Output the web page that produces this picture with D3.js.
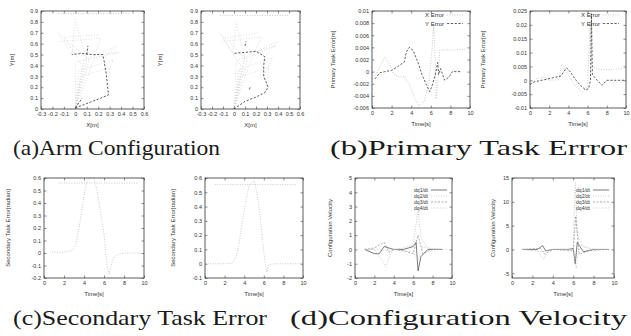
<!DOCTYPE html>
<html>
<head>
<meta charset="utf-8">
<script src="https://cdn.jsdelivr.net/npm/d3@7"></script>
<style>
  body { margin: 0; background: #fff; }
  svg { display: block; }
  .tick text { font-family: "Liberation Sans", Arial, sans-serif; font-size: 5.5px; fill: #333; }
  .title { font-family: "Liberation Sans", Arial, sans-serif; font-size: 6px; fill: #333; }
  .caption { font-family: "Liberation Serif", serif; font-size: 22px; fill: #1a1a1a; }
</style>
</head>
<body>
<svg id="fig" width="631" height="336"></svg>
<script>
// ---- tick values ----
const armTicks = [-0.3, -0.2, -0.1, 0, 0.1, 0.2, 0.3, 0.4, 0.5, 0.6];
const armYTicks = [0, 0.1, 0.2, 0.3, 0.4, 0.5, 0.6, 0.7, 0.8, 0.9];
const timeTicks = [0, 2, 4, 6, 8, 10];
const b1YTicks = [-0.006, -0.004, -0.002, 0, 0.002, 0.004, 0.006, 0.008, 0.01];
const b2YTicks = [-0.01, -0.005, 0, 0.005, 0.01, 0.015, 0.02, 0.025];
const c1YTicks = [-0.2, -0.1, 0, 0.1, 0.2, 0.3, 0.4, 0.5, 0.6];
const c2YTicks = [-0.1, 0, 0.1, 0.2, 0.3, 0.4, 0.5, 0.6];
const d1YTicks = [-2, -1, 0, 1, 2, 3, 4, 5];
const d2YTicks = [-5, 0, 5, 10, 15];

// ---- (a) arm configuration: end effector path + arm poses ----
const a1Path = [[0,0.01],[0.1,0.05],[0.2,0.09],[0.29,0.13],[0.28,0.22],[0.27,0.32],[0.25,0.45],[0.24,0.5],[0.15,0.5],[0.05,0.51],[-0.03,0.5]];
const a1Extra = [[[0.0,0.01],[0.06,0.1]], [[0.1,0.5],[0.11,0.58]]];
const a1Poses = [
  [[0,0],[0.05,0.3],[0.3,0.38],[0.29,0.13]],
  [[0,0],[0.03,0.35],[0.33,0.45],[0.27,0.3]],
  [[0,0],[0.0,0.42],[0.36,0.58],[0.25,0.47]],
  [[0,0],[0.08,0.45],[0.38,0.52],[0.2,0.5]],
  [[0,0],[0.12,0.45],[-0.15,0.7],[-0.03,0.5]],
  [[0,0],[0.15,0.42],[0.22,0.65],[-0.15,0.62]],
  [[0,0],[0.1,0.45],[0.0,0.82],[-0.03,0.5]],
  [[0,0],[0.06,0.4],[-0.1,0.66],[0.2,0.68]]
];
const a1Key = [[-0.15,0.875],[0.48,0.875]];

const a2Path = [[0,0.0],[0.1,0.07],[0.2,0.11],[0.28,0.15],[0.31,0.2],[0.27,0.3],[0.27,0.4],[0.28,0.48],[0.2,0.53],[0.1,0.52],[-0.01,0.51]];
const a2Extra = [[[0.14,0.18],[0.15,0.21]], [[0.1,0.58],[0.11,0.62]]];
const a2Poses = [
  [[0,0],[0.06,0.3],[0.32,0.38],[0.28,0.15]],
  [[0,0],[0.04,0.36],[0.35,0.47],[0.27,0.3]],
  [[0,0],[0.02,0.44],[0.4,0.62],[0.28,0.48]],
  [[0,0],[0.09,0.46],[0.38,0.58],[0.2,0.53]],
  [[0,0],[0.12,0.45],[-0.13,0.7],[-0.01,0.51]],
  [[0,0],[0.15,0.44],[0.25,0.66],[-0.12,0.62]],
  [[0,0],[0.1,0.46],[0.02,0.8],[-0.01,0.51]],
  [[0,0],[0.06,0.4],[-0.1,0.65],[0.22,0.7]]
];
const a2Key = [[-0.13,0.86],[0.5,0.86]];

// ---- (b) primary task error ----
const b1XErr = [[0,-0.0012],[0.4,-0.0005],[0.8,0.0008],[1.3,0.0024],[1.8,0.0012],[2.2,-0.0004],[2.8,-0.0009],[3.3,-0.0008],[3.8,-0.002],[4.3,-0.0042],[4.8,-0.0057],[5.3,-0.005],[5.8,-0.002],[6.1,0.003],[6.3,0.0078],[6.45,0.002],[6.55,-0.0045],[6.75,-0.001],[6.9,0.0035],[7.5,0.0036],[8.5,0.0036],[9.5,0.0037]];
const b1YErr = [[0.3,-0.0012],[0.8,-0.0002],[1.3,0.0],[2,0.0002],[2.6,0.0008],[3.3,0.0016],[3.5,0.0032],[3.8,0.004],[4.2,0.0035],[4.7,0.0015],[5.1,-0.0005],[5.5,-0.002],[5.9,-0.0033],[6.2,-0.002],[6.5,-0.0002],[6.7,0.0015],[6.8,-0.0005],[7.0,0.0005],[7.4,-0.0014],[7.8,-0.001],[8.2,0],[9,0]];
const b2XErr = [[0,-0.001],[0.8,0.0008],[1.5,0.001],[2,0.0],[3,0.0002],[3.3,0.006],[3.6,0.004],[4,0.002],[4.5,-0.001],[5,-0.003],[5.5,-0.004],[6,-0.002],[6.25,0.021],[6.4,0.006],[6.6,0.005],[7,0.004],[8,0.0038],[9,0.004],[9.6,0.0042]];
const b2YErr = [[0,-0.0015],[0.5,-0.0005],[1.5,0.0002],[2.5,0.001],[3.2,0.0015],[3.5,0.003],[3.8,0.0045],[4.2,0.003],[4.8,0.0],[5.3,-0.002],[5.8,-0.0035],[6.1,-0.003],[6.3,0.0],[6.4,0.024],[6.5,0.002],[7,0],[7.5,-0.0018],[8,0],[9,0],[10,0]];
const bNames = ["X Error", "Y Error"];

// ---- (c) secondary task error ----
const c1Err = [[0.8,0.01],[1.5,0],[2.2,0.01],[2.8,0.02],[3.2,0.07],[3.5,0.2],[3.8,0.35],[4.2,0.55],[4.5,0.6],[5,0.6],[5.3,0.5],[5.6,0.35],[6,0.15],[6.3,-0.1],[6.5,-0.17],[6.8,-0.08],[7,-0.03],[7.5,-0.01],[8,0],[9.7,0]];
const c1Key = [[1.5,0.56],[9.5,0.56]];
const c2Err = [[0.3,0],[1,0],[1.5,0],[2.2,0],[2.8,0.005],[3.2,0.05],[3.5,0.15],[3.8,0.3],[4.2,0.45],[4.5,0.55],[5,0.58],[5.3,0.5],[5.6,0.35],[5.9,0.15],[6.1,0.02],[6.3,-0.06],[6.5,-0.01],[7,0],[8,0],[9.8,0]];
const c2Key = [[1,0.555],[9.3,0.555]];

// ---- (d) configuration velocity ----
const d1Q1 = [[1,0],[2,-0.3],[2.5,-0.3],[3,0.2],[3.5,0.1],[4,0],[5,0],[6,0.2],[6.3,0.5],[6.5,-1.5],[6.8,-0.5],[7.5,0],[9,0]];
const d1Q2 = [[1,0],[2,0],[2.5,-0.5],[3.2,-1.2],[3.6,-0.4],[4,0],[5,0.1],[6,0.3],[6.5,2.8],[6.8,0.8],[7.5,0.1],[9,0]];
const d1Q3 = [[1,0],[2,0.1],[3,0.5],[3.5,-0.2],[4,0],[5,-0.1],[6,-0.3],[6.5,1.0],[7,-0.3],[8,0],[9,0]];
const d1Q4 = [[1,0],[2.5,0],[3,-0.1],[4,0],[6,-0.2],[6.5,-0.8],[7,0.2],[8,0],[9.5,0]];
const d2Q1 = [[1,0],[2.5,0],[3,0.8],[3.3,-0.3],[4,0],[5.5,0],[6,0.2],[6.2,-3],[6.4,1.5],[7,-0.5],[8,0],[9.5,0]];
const d2Q2 = [[1,0],[2.5,-0.3],[3.1,-2],[3.5,-0.5],[4,0],[5.5,0],[6,0.3],[6.2,14],[6.4,3],[7,0.5],[8,0],[9.5,0]];
const d2Q3 = [[1,0],[2.8,0.2],[3.2,-1],[4,0],[6,-0.3],[6.25,7],[6.6,-1],[7.5,-0.3],[9,0]];
const d2Q4 = [[1,0],[3,-0.5],[4,0],[6,0],[6.3,-4],[6.6,1],[8,0],[9.5,0]];
const dNames = ["dq1/dt", "dq2/dt", "dq3/dt", "dq4/dt"];

// ---- styles ----
const light = {stroke: "#bdbdbd", dash: "0.9,1.6", width: 0.9};
const pale = {stroke: "#cfcfcf", dash: "0.9,1.8", width: 0.8};
const dark = {stroke: "#333", dash: "2.2,1.6", width: 0.8};
const solid = {stroke: "#444", dash: null, width: 0.7};
const mid = {stroke: "#8a8a8a", dash: "2,1.5", width: 0.7};
const faint = {stroke: "#c8c8c8", dash: "1.5,1.5", width: 0.7};

const svg = d3.select("#fig");

function fmt(d) { return String(+d.toFixed(3)); }

function panel(p) {
  const x = d3.scaleLinear().domain(p.xDom).range([p.left, p.right]);
  const y = d3.scaleLinear().domain(p.yDom).range([p.bottom, p.top]);
  const g = svg.append("g");

  const line = d3.line().x(d => x(d[0])).y(d => y(d[1]));

  // curves
  p.series.forEach(s => {
    g.append("path")
      .attr("d", line(s.pts))
      .attr("fill", "none")
      .attr("stroke", s.style.stroke)
      .attr("stroke-width", s.style.width)
      .attr("stroke-dasharray", s.style.dash);
  });

  // axes with inward ticks on all sides
  const noLab = () => "";
  g.append("g").attr("transform", `translate(0,${p.bottom})`)
    .call(d3.axisBottom(x).tickValues(p.xTicks).tickSize(-2.5).tickPadding(3).tickFormat(fmt))
    .call(a => a.select(".domain").remove());
  g.append("g").attr("transform", `translate(0,${p.top})`)
    .call(d3.axisTop(x).tickValues(p.xTicks).tickSize(-2.5).tickFormat(noLab))
    .call(a => a.select(".domain").remove());
  g.append("g").attr("transform", `translate(${p.left},0)`)
    .call(d3.axisLeft(y).tickValues(p.yTicks).tickSize(-2.5).tickPadding(3).tickFormat(fmt))
    .call(a => a.select(".domain").remove());
  g.append("g").attr("transform", `translate(${p.right},0)`)
    .call(d3.axisRight(y).tickValues(p.yTicks).tickSize(-2.5).tickFormat(noLab))
    .call(a => a.select(".domain").remove());
  g.selectAll(".tick line").attr("stroke", "#444").attr("stroke-width", 0.6);

  g.append("rect")
    .attr("x", p.left).attr("y", p.top)
    .attr("width", p.right - p.left).attr("height", p.bottom - p.top)
    .attr("fill", "none").attr("stroke", "#333").attr("stroke-width", 0.8);

  // axis titles
  g.append("text").attr("class", "title")
    .attr("x", (p.left + p.right) / 2).attr("y", p.bottom + 18)
    .attr("text-anchor", "middle").text(p.xLabel);
  g.append("text").attr("class", "title")
    .attr("transform", `translate(${p.yLabelX},${(p.top + p.bottom) / 2}) rotate(-90)`)
    .attr("text-anchor", "middle").text(p.yLabel);

  // legend
  if (p.legend) {
    p.legend.names.forEach((n, i) => {
      const ly = p.top + p.legend.dy + i * p.legend.step;
      const st = p.legend.styles[i];
      g.append("text").attr("class", "title")
        .style("font-size", p.legend.size + "px")
        .attr("x", p.right - p.legend.right - p.legend.len - 3).attr("y", ly + 2)
        .attr("text-anchor", "end").text(n);
      g.append("line")
        .attr("x1", p.right - p.legend.right - p.legend.len).attr("x2", p.right - p.legend.right)
        .attr("y1", ly).attr("y2", ly)
        .attr("stroke", st.stroke).attr("stroke-width", st.width)
        .attr("stroke-dasharray", st.dash);
    });
  }
}

function armSeries(path, extra, poses, key) {
  const s = poses.map(pts => ({pts, style: pale}));
  s.push({pts: key, style: light});
  s.push({pts: path, style: dark});
  extra.forEach(pts => s.push({pts, style: dark}));
  return s;
}

// (a)
panel({left: 41, right: 144, top: 11, bottom: 109, xDom: [-0.3, 0.6], yDom: [0, 0.9],
  xTicks: armTicks, yTicks: armYTicks, xLabel: "X[m]", yLabel: "Y[m]", yLabelX: 14,
  series: armSeries(a1Path, a1Extra, a1Poses, a1Key)});
panel({left: 201, right: 300, top: 11, bottom: 109, xDom: [-0.3, 0.6], yDom: [0, 0.9],
  xTicks: armTicks, yTicks: armYTicks, xLabel: "X[m]", yLabel: "Y[m]", yLabelX: 162,
  series: armSeries(a2Path, a2Extra, a2Poses, a2Key)});

// (b)
const bLegend = {names: bNames, styles: [light, dark], dy: 4, step: 8.5, right: 7, len: 16, size: 6};
panel({left: 372, right: 470, top: 11, bottom: 108, xDom: [0, 10], yDom: [-0.006, 0.01],
  xTicks: timeTicks, yTicks: b1YTicks, xLabel: "Time[s]", yLabel: "Primary Task Error[m]", yLabelX: 335,
  series: [{pts: b1XErr, style: light}, {pts: b1YErr, style: dark}], legend: bLegend});
panel({left: 530, right: 626, top: 11, bottom: 108, xDom: [0, 10], yDom: [-0.01, 0.025],
  xTicks: timeTicks, yTicks: b2YTicks, xLabel: "Time[s]", yLabel: "Primary Task Error[m]", yLabelX: 485,
  series: [{pts: b2XErr, style: light}, {pts: b2YErr, style: dark}], legend: bLegend});

// (c)
panel({left: 44, right: 144, top: 178, bottom: 278, xDom: [0, 10], yDom: [-0.2, 0.6],
  xTicks: timeTicks, yTicks: c1YTicks, xLabel: "Time[s]", yLabel: "Secondary Task Error[radian]", yLabelX: 10,
  series: [{pts: c1Key, style: light}, {pts: c1Err, style: light}]});
panel({left: 205, right: 303, top: 178, bottom: 278, xDom: [0, 10], yDom: [-0.1, 0.6],
  xTicks: timeTicks, yTicks: c2YTicks, xLabel: "Time[s]", yLabel: "Secondary Task Error[radian]", yLabelX: 175,
  series: [{pts: c2Key, style: light}, {pts: c2Err, style: light}]});

// (d)
const dStyles = [solid, light, mid, faint];
const dLegend = {names: dNames, styles: dStyles, dy: 12, step: 6, right: 5, len: 16, size: 5};
panel({left: 355, right: 452, top: 178, bottom: 278, xDom: [0, 10], yDom: [-2, 5],
  xTicks: timeTicks, yTicks: d1YTicks, xLabel: "Time[s]", yLabel: "Configuration Velocity", yLabelX: 332,
  series: [d1Q1, d1Q2, d1Q3, d1Q4].map((pts, i) => ({pts, style: dStyles[i]})), legend: dLegend});
panel({left: 512, right: 614, top: 178, bottom: 278, xDom: [0, 10], yDom: [-6, 15],
  xTicks: timeTicks, yTicks: d2YTicks, xLabel: "Time[s]", yLabel: "Configuration Velocity", yLabelX: 495,
  series: [d2Q1, d2Q2, d2Q3, d2Q4].map((pts, i) => ({pts, style: dStyles[i]})), legend: dLegend});

// captions
const captions = [
  {t: "(a)Arm Configuration", x: 13, y: 155, w: 207},
  {t: "(b)Primary Task Errror", x: 330, y: 155, w: 297},
  {t: "(c)Secondary Task Error", x: 13, y: 325, w: 254},
  {t: "(d)Configuration Velocity", x: 290, y: 325, w: 337}
];
svg.selectAll("text.caption").data(captions).enter().append("text")
  .attr("class", "caption")
  .attr("x", d => d.x).attr("y", d => d.y)
  .attr("textLength", d => d.w).attr("lengthAdjust", "spacingAndGlyphs")
  .text(d => d.t);
</script>
</body>
</html>
